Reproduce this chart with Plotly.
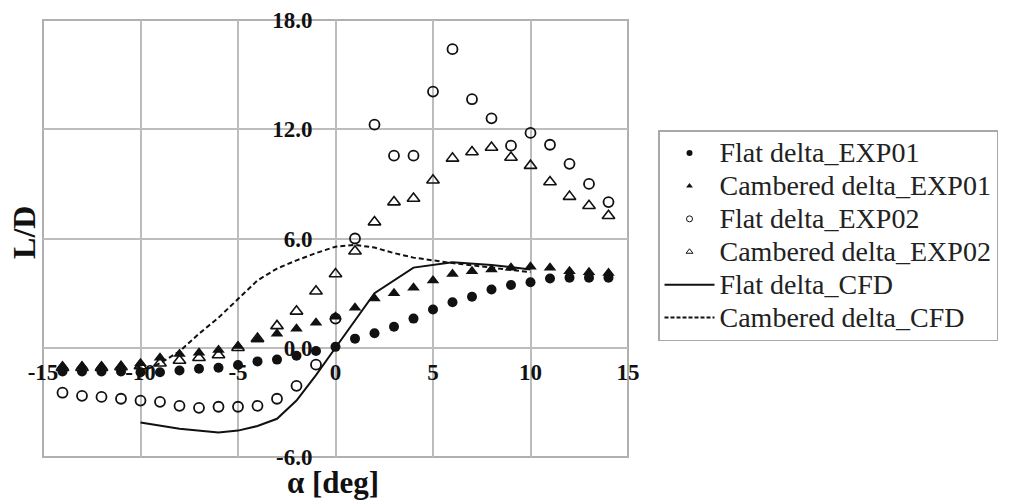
import plotly.graph_objects as go

# ---------------- data ----------------
alpha_exp = list(range(-14, 15))

flat_exp01 = [-1.3, -1.3, -1.3, -1.3, -1.35, -1.35, -1.25, -1.15, -1.1, -0.95,
              -0.75, -0.65, -0.44, -0.18, 0.05, 0.5, 0.8, 1.15, 1.6, 2.1,
              2.5, 2.8, 3.2, 3.45, 3.6, 3.8, 3.85, 3.85, 3.85]

camb_exp01 = [-1.0, -1.0, -1.0, -1.0, -0.85, -0.55, -0.35, -0.27, -0.12, 0.1,
              0.45, 0.77, 1.05, 1.37, 1.7, 2.2, 2.7, 3.0, 3.3, 3.7,
              4.05, 4.2, 4.3, 4.4, 4.45, 4.4, 4.2, 4.15, 4.1]

flat_exp02 = [-2.47, -2.64, -2.7, -2.8, -2.9, -2.97, -3.19, -3.3, -3.24, -3.24,
              -3.19, -2.8, -2.09, -0.93, 1.6, 6.0, 12.25, 10.55, 10.55, 14.07,
              16.4, 13.65, 12.6, 11.1, 11.8, 11.15, 10.1, 9.0, 8.0]

camb_exp02 = [-1.1, -1.1, -1.1, -1.05, -1.0, -0.85, -0.7, -0.55, -0.4, 0.0,
              0.5, 1.2, 2.0, 3.1, 4.05, 5.3, 6.9, 8.0, 8.2, 9.2,
              10.4, 10.75, 11.0, 10.45, 10.0, 9.1, 8.3, 7.8, 7.25]

alpha_flat_cfd = [-10, -8, -6, -5, -4, -3, -2, -1, 0, 2, 4, 6, 8, 10]
flat_cfd = [-4.1, -4.45, -4.65, -4.55, -4.3, -3.9, -2.9, -1.5, 0.0, 3.0, 4.4, 4.7, 4.55, 4.3]

alpha_camb_cfd = [-10, -9, -8, -7, -6, -5, -4, -3, -2, -1, 0, 1, 2, 3, 4, 6, 8, 10]
camb_cfd = [-1.35, -0.85, -0.2, 0.77, 1.65, 2.7, 3.7, 4.35, 4.8, 5.2, 5.55, 5.65, 5.5, 5.2, 4.95, 4.65, 4.4, 4.15]

x_ticks = [-15, -10, -5, 0, 5, 10, 15]
x_ticklabels = ["-15", "-10", "-5", "0", "5", "10", "15"]
y_ticks = [-6, 0, 6, 12, 18]
y_ticklabels = ["-6.0", "0.0", "6.0", "12.0", "18.0"]

names = ["Flat delta_EXP01", "Cambered delta_EXP01", "Flat delta_EXP02",
         "Cambered delta_EXP02", "Flat delta_CFD", "Cambered delta_CFD"]

# ---------------- figure ----------------
FONT = "Liberation Serif"
BLACK = "#111111"

fig = go.Figure()

marker_series = [
    (flat_exp01, "circle", 10, 0),
    (camb_exp01, "triangle-up", 11, 0),
    (flat_exp02, "circle-open", 10, 1.8),
    (camb_exp02, "triangle-up-open", 11, 1.6),
]

for (vals, sym, sz, lw), nm in zip(marker_series, names[:4]):
    fig.add_trace(go.Scatter(
        x=alpha_exp, y=vals, mode="markers", name=nm, showlegend=False,
        marker=dict(symbol=sym, size=sz, color=BLACK, line=dict(color=BLACK, width=lw)),
    ))

fig.add_trace(go.Scatter(x=alpha_flat_cfd, y=flat_cfd, mode="lines", name=names[4],
                         showlegend=False, line=dict(color=BLACK, width=2)))
fig.add_trace(go.Scatter(x=alpha_camb_cfd, y=camb_cfd, mode="lines", name=names[5],
                         showlegend=False, line=dict(color=BLACK, width=2, dash="5px,3px")))

# legend-only entries (small symbols as in the original)
LEG_SPAN = '<span style="font-size:28px">{}</span>'
for (vals, sym, sz, lw), nm in zip(marker_series, names[:4]):
    fig.add_trace(go.Scatter(
        x=[None], y=[None], mode="markers", name=LEG_SPAN.format(nm),
        marker=dict(symbol=sym, size=6, color=BLACK, line=dict(color=BLACK, width=1 if lw else 0)),
    ))
fig.add_trace(go.Scatter(x=[None], y=[None], mode="lines", name=LEG_SPAN.format(names[4]),
                         line=dict(color=BLACK, width=2)))
fig.add_trace(go.Scatter(x=[None], y=[None], mode="lines", name=LEG_SPAN.format(names[5]),
                         line=dict(color=BLACK, width=2, dash="4px,2px")))

GRID = "#bdbdbd"
fig.update_layout(
    width=1001, height=494,
    margin=dict(l=35, r=381, t=12, b=45, autoexpand=False),
    paper_bgcolor="white", plot_bgcolor="white",
    font=dict(family=FONT, color=BLACK),
    xaxis=dict(
        range=[-15, 15], tickvals=x_ticks, ticktext=x_ticklabels,
        showgrid=True, gridcolor=GRID, gridwidth=1.5, zeroline=False,
        showline=False, ticks="", anchor="free", position=0.25,
        tickfont=dict(family=FONT, size=23, weight="bold", color=BLACK),
        ticklabelstandoff=8, automargin=False,
    ),
    yaxis=dict(
        range=[-6, 18], tickvals=y_ticks, ticktext=y_ticklabels,
        showgrid=True, gridcolor=GRID, gridwidth=1.5, zeroline=False,
        showline=False, ticks="", anchor="free", position=0.5,
        tickfont=dict(family=FONT, size=23, weight="bold", color=BLACK),
        ticklabelstandoff=23, automargin=False,
    ),
    legend=dict(
        x=1.0513, xanchor="left", y=0.748, yanchor="top",
        bordercolor="#a8a8a8", borderwidth=1.5, bgcolor="white",
        font=dict(family=FONT, size=23, color="#222222"),
        itemwidth=50, tracegroupgap=0,
    ),
    shapes=[dict(type="rect", xref="paper", yref="paper", x0=0, y0=0, x1=1, y1=1,
                 line=dict(color="#b0b0b0", width=2), layer="below")],
    annotations=[
        dict(text="L/D", xref="paper", yref="paper", x=-0.0325, y=0.515,
             textangle=-90, showarrow=False, xanchor="center", yanchor="middle",
             font=dict(family=FONT, size=32, weight="bold", color=BLACK)),
        dict(text="α [deg]", xref="paper", yref="paper", x=0.4957, y=-0.059,
             showarrow=False, xanchor="center", yanchor="middle",
             font=dict(family=FONT, size=31, weight="bold", color=BLACK)),
    ],
)

fig.write_html("out.html")
